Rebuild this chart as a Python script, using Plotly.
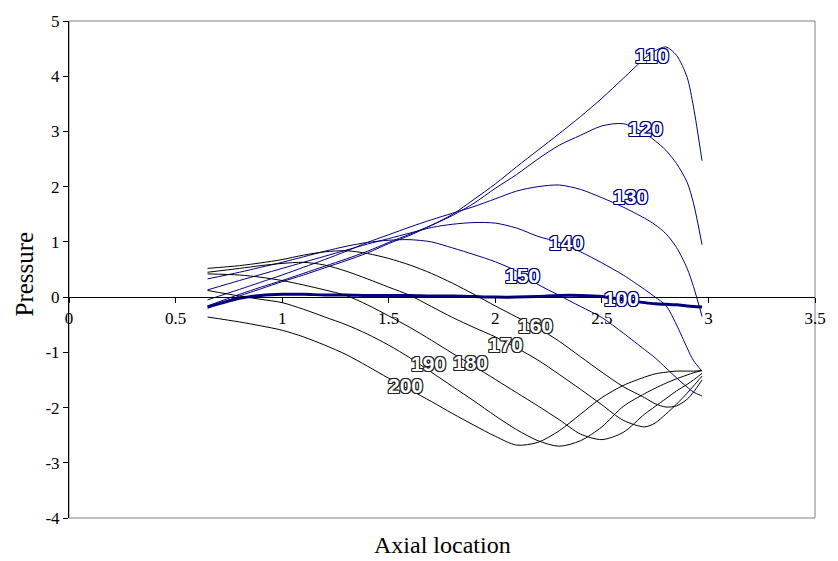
import plotly.graph_objects as go

x = [0.65, 0.8, 0.9, 1.0, 1.1, 1.2, 1.3, 1.4, 1.5, 1.6, 1.7, 1.8, 1.9, 2.0,
     2.1, 2.2, 2.3, 2.4, 2.5, 2.6, 2.7, 2.75, 2.8, 2.85, 2.9, 2.93, 2.97]

p100 = [-0.18, -0.02, 0.03, 0.05, 0.05, 0.04, 0.04, 0.03, 0.03, 0.03, 0.02, 0.02, 0.01, 0.0,
        0.0, 0.01, 0.03, 0.03, 0.01, -0.05, -0.1, -0.12, -0.13, -0.14, -0.16, -0.17, -0.18]
p110 = [-0.20, 0.02, 0.15, 0.28, 0.40, 0.53, 0.66, 0.80, 0.97, 1.12, 1.30, 1.50, 1.77, 2.05,
        2.36, 2.66, 2.96, 3.27, 3.60, 3.96, 4.32, 4.46, 4.53, 4.38, 3.98, 3.44, 2.47]
p120 = [-0.16, 0.05, 0.18, 0.30, 0.43, 0.56, 0.69, 0.83, 0.99, 1.14, 1.30, 1.48, 1.70, 1.97,
        2.22, 2.50, 2.75, 2.93, 3.10, 3.14, 2.97, 2.83, 2.66, 2.42, 2.08, 1.70, 0.95]
p130 = [-0.05, 0.14, 0.27, 0.40, 0.54, 0.68, 0.83, 0.99, 1.13, 1.27, 1.40, 1.52, 1.64, 1.78,
        1.92, 2.00, 2.03, 1.95, 1.80, 1.63, 1.43, 1.31, 1.15, 0.90, 0.52, 0.19, -0.35]
p140 = [0.13, 0.30, 0.41, 0.52, 0.63, 0.74, 0.85, 0.96, 1.06, 1.16, 1.26, 1.32, 1.35, 1.34,
        1.25, 1.10, 0.99, 0.82, 0.62, 0.40, 0.14, 0.0, -0.15, -0.50, -0.92, -1.15, -1.34]
p150 = [0.33, 0.45, 0.54, 0.63, 0.73, 0.83, 0.92, 0.99, 1.03, 1.04, 1.00, 0.89, 0.77, 0.64,
        0.47, 0.23, 0.03, -0.17, -0.37, -0.65, -0.95, -1.10, -1.28, -1.46, -1.63, -1.72, -1.79]
p160 = [0.52, 0.57, 0.62, 0.68, 0.76, 0.82, 0.84, 0.79, 0.70, 0.58, 0.43, 0.25, 0.05, -0.16,
        -0.36, -0.56, -0.80, -1.08, -1.36, -1.62, -1.82, -1.93, -1.99, -1.97, -1.85, -1.72, -1.50]
p170 = [0.45, 0.52, 0.57, 0.61, 0.63, 0.58, 0.47, 0.33, 0.18, 0.03, -0.17, -0.37, -0.55, -0.72,
        -0.92, -1.14, -1.40, -1.67, -1.95, -2.23, -2.35, -2.28, -2.12, -1.94, -1.74, -1.61, -1.43]
p180 = [0.42, 0.40, 0.36, 0.30, 0.22, 0.13, 0.03, -0.14, -0.34, -0.55, -0.78, -1.02, -1.25, -1.49,
        -1.73, -1.97, -2.22, -2.48, -2.58, -2.45, -2.12, -1.98, -1.84, -1.70, -1.58, -1.50, -1.38]
p190 = [0.12, 0.02, -0.04, -0.10, -0.22, -0.36, -0.50, -0.67, -0.87, -1.10, -1.36, -1.62, -1.88, -2.15,
        -2.40, -2.60, -2.70, -2.60, -2.35, -1.98, -1.75, -1.65, -1.56, -1.48, -1.41, -1.37, -1.33]
p200 = [-0.36, -0.45, -0.52, -0.60, -0.72, -0.87, -1.04, -1.25, -1.47, -1.68, -1.89, -2.11, -2.32, -2.52,
        -2.68, -2.63, -2.42, -2.12, -1.82, -1.60, -1.45, -1.39, -1.36, -1.34, -1.34, -1.34, -1.33]

names = ["100", "110", "120", "130", "140", "150", "160", "170", "180", "190", "200"]
series = [p100, p110, p120, p130, p140, p150, p160, p170, p180, p190, p200]

# label anchor points (data coordinates) for the curve labels
label_x = [2.59, 2.735, 2.705, 2.635, 2.335, 2.13, 2.19, 2.05, 1.885, 1.685, 1.58]
label_y = [-0.03, 4.38, 3.05, 1.82, 0.99, 0.39, -0.52, -0.85, -1.18, -1.21, -1.60]

x_ticks = [0, 0.5, 1, 1.5, 2, 2.5, 3, 3.5]
x_tick_text = ["0", "0.5", "1", "1.5", "2", "2.5", "3", "3.5"]
y_ticks = [-4, -3, -2, -1, 0, 1, 2, 3, 4, 5]
y_tick_text = ["-4", "-3", "-2", "-1", "0", "1", "2", "3", "4", "5"]

BLUE = "#000080"
BLACK = "#000000"

fig = go.Figure()
for name, vals in zip(names, series):
    n = int(name)
    color = BLUE if n <= 150 else BLACK
    width = 3 if n == 100 else 1
    fig.add_trace(go.Scatter(x=x, y=vals, mode="lines", name=name,
                             line=dict(color=color, width=width, shape="spline", smoothing=0.8),
                             showlegend=False, hoverinfo="skip"))

for name, lx, ly in zip(names, label_x, label_y):
    n = int(name)
    oc = BLUE if n <= 150 else "#222222"
    sh = ", ".join(f"{dx}px {dy}px 0 {oc}" for dx, dy in
                   [(1, 0), (-1, 0), (0, 1), (0, -1), (1, 1), (-1, -1), (1, -1), (-1, 1)])
    fig.add_annotation(x=lx, y=ly, text=name, showarrow=False, xanchor="center", yanchor="middle",
                       font=dict(family="Liberation Sans Narrow, Arial Narrow, Liberation Sans, sans-serif",
                                 size=21, color="white", weight="bold", shadow=sh))

# frame
fig.add_shape(type="rect", xref="paper", yref="paper", x0=0, x1=1, y0=0, y1=1,
              line=dict(color="#808080", width=1), layer="below")

fig.add_annotation(xref="paper", yref="paper", x=0.5, y=0, yshift=-27, text="Axial location",
                   showarrow=False, xanchor="center", yanchor="middle",
                   font=dict(family="Liberation Serif, Times New Roman, serif", size=24, color="black"))
fig.add_annotation(xref="paper", yref="paper", x=0, y=0.5, xshift=-45, yshift=-5, text="Pressure",
                   textangle=-90, showarrow=False, xanchor="center", yanchor="middle",
                   font=dict(family="Liberation Serif, Times New Roman, serif", size=25, color="black"))

fig.update_layout(
    width=838, height=561,
    margin=dict(l=69, r=12, t=16, b=43),
    paper_bgcolor="white", plot_bgcolor="white",
    font=dict(family="Liberation Serif, Times New Roman, serif", size=17, color="black"),
    xaxis=dict(range=[0, 3.5], tickvals=x_ticks, ticktext=x_tick_text, anchor="free", position=4/9,
               showline=True, linecolor="black", linewidth=1, ticks="outside", ticklen=5,
               tickcolor="black", showgrid=False, zeroline=False, fixedrange=True),
    yaxis=dict(range=[-4, 5], tickvals=y_ticks, ticktext=y_tick_text, showline=True,
               linecolor="black", linewidth=1, ticks="outside", ticklen=5, tickcolor="black",
               showgrid=False, zeroline=False),
)

fig.write_html("out.html")
